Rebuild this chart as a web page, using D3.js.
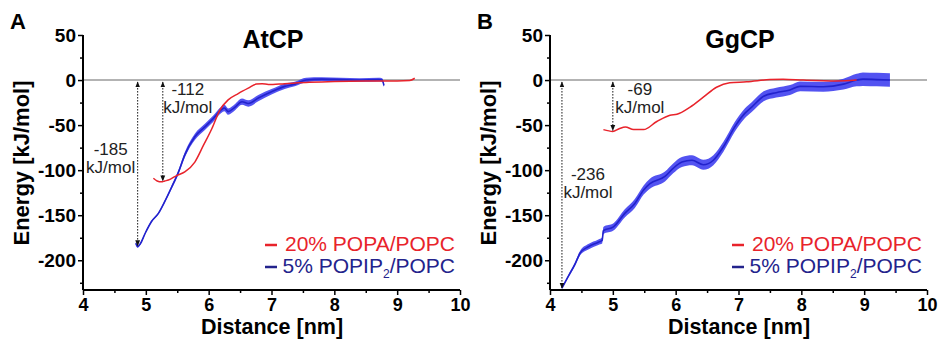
<!DOCTYPE html>
<html>
<head>
<meta charset="utf-8">
<script src="https://cdn.jsdelivr.net/npm/d3@7"></script>
<style>
  body { margin: 0; background: #fff; }
  svg { font-family: "Liberation Sans", Arial, sans-serif; }
</style>
</head>
<body>
<svg id="chart" width="938" height="343"></svg>
<script>
// ---- data ----
var panelLetters = ["A", "B"];
var panelTitles = ["AtCP", "GgCP"];
var seriesNames = ["20% POPA/POPC", "5% POPIP2/POPC"];
var xTicks = [4, 5, 6, 7, 8, 9, 10];
var yTicks = [50, 0, -50, -100, -150, -200];

// AtCP, POPA
var atPopaX = [5.12, 5.18, 5.25, 5.30, 5.36, 5.49, 5.62, 5.78, 5.92, 6.05, 6.18, 6.31, 6.47, 6.63, 6.76, 6.85, 6.95, 7.21, 7.6, 8.0, 8.5, 9.0, 9.2, 9.28];
var atPopaE = [-109, -112, -113, -112, -111, -106, -102, -91, -72, -54, -33, -22, -15, -9, -4.5, -4, -5, -4, -2.5, -1.5, -1, -1, -0.5, 2];
// AtCP, PIP2
var atPipX = [4.84, 4.87, 4.91, 4.99, 5.09, 5.2, 5.3, 5.41, 5.52, 5.62, 5.78, 5.94, 6.07, 6.2, 6.25, 6.31, 6.42, 6.53, 6.63, 6.79, 7.0, 7.21, 7.37, 7.55, 7.8, 8.1, 8.4, 8.7, 8.76, 8.79];
var atPipE = [-181, -185, -182, -170, -157, -148, -135, -119, -102, -83, -63, -52, -43, -33, -31, -35, -30, -24, -26, -20, -13, -7, -4.5, 0, 1, 0.5, 0, 0.5, 0, -6];
var atPipErr = [1, 1, 1, 1, 1, 1, 1.5, 2, 2.5, 3, 3.5, 3.5, 3.5, 3.5, 3.5, 3.5, 3.5, 3.5, 3.5, 3.5, 3, 3, 2.5, 2.5, 2, 2, 2, 2, 2, 2];

// GgCP, POPA
var ggPopaX = [4.85, 5.0, 5.1, 5.2, 5.33, 5.49, 5.7, 5.91, 6.02, 6.23, 6.44, 6.65, 6.86, 7.13, 7.5, 7.71, 8.03, 8.56, 8.88];
var ggPopaE = [-55, -57, -54, -52, -55, -55, -46, -39, -38, -30, -19, -8, -3, -2, 0.5, 1, 0, -1, 0];
// GgCP, PIP2
var ggPipX = [4.19, 4.29, 4.40, 4.48, 4.61, 4.77, 4.83, 4.85, 5.01, 5.19, 5.35, 5.49, 5.59, 5.83, 5.96, 6.1, 6.26, 6.44, 6.6, 6.76, 6.94, 7.1, 7.21, 7.4, 7.6, 7.82, 7.98, 8.35, 8.67, 8.88, 8.98, 9.2, 9.41];
var ggPipE = [-231, -218, -204, -192, -185, -180, -178, -167, -163, -148, -137, -122, -115, -107, -98, -91, -89, -94, -89, -74, -52, -37, -30, -18, -14, -11, -7, -7.4, -4.5, 0, 1, 0.5, 0];
var ggPipErr = [1, 1.5, 2, 2.5, 3, 3, 3.5, 4, 4, 4.5, 5, 5, 5.5, 5.5, 5.5, 5.5, 5.5, 5.5, 5.5, 5.5, 5.5, 5.5, 5.5, 5.5, 5.5, 5.5, 5.5, 5.5, 6, 7, 7.5, 7.5, 7.5];

// annotation arrows: x position, bottom value, label lines
var arrowX = [[4.87, 5.27], [4.19, 5.0]];
var arrowBottom = [[-185, -113], [-232, -57]];
var arrowLabel = [["-185", "-112"], ["-236", "-69"]];

var panels = [
  { popaX: atPopaX, popaE: atPopaE, pipX: atPipX, pipE: atPipE, pipErr: atPipErr },
  { popaX: ggPopaX, popaE: ggPopaE, pipX: ggPipX, pipE: ggPipE, pipErr: ggPipErr }
];
// label offsets (pixels, relative to each arrow)
var labelPos = [[[-27, 75], [25, 15]], [[26, 100], [27, 15]]];

var red = "#e8232b", blue = "#2222cc", blueBand = "#4040f0", navy = "#23238c";
var font = "'Liberation Sans', Arial, sans-serif";

var svg = d3.select("#chart");

var x = d3.scaleLinear().domain([4, 10]).range([83, 460]);
var y = d3.scaleLinear().domain([-233, 50]).range([290, 35]);

var defs = svg.append("defs");
defs.append("marker")
  .attr("id", "arr")
  .attr("viewBox", "0 0 10 10")
  .attr("refX", 9).attr("refY", 5)
  .attr("markerWidth", 6).attr("markerHeight", 6)
  .attr("orient", "auto-start-reverse")
  .append("path").attr("d", "M0,1L10,5L0,9Z").attr("fill", "#111");

panels.forEach(function(p, i) {
  var g = svg.append("g").attr("transform", "translate(" + (i * 467) + ",0)");

  // zero line
  g.append("line")
    .attr("x1", x(4)).attr("x2", x(10))
    .attr("y1", y(0)).attr("y2", y(0))
    .attr("stroke", "#9a9a9a").attr("stroke-width", 1.4);

  // PIP2 band + line
  var pip = p.pipX.map(function(d, k) { return { x: d, e: p.pipE[k], s: p.pipErr[k] }; });
  var band = d3.area()
    .x(function(d) { return x(d.x); })
    .y0(function(d) { return y(d.e - d.s); })
    .y1(function(d) { return y(d.e + d.s); })
    .curve(d3.curveMonotoneX);
  g.append("path").datum(pip)
    .attr("d", band)
    .attr("fill", blueBand).attr("opacity", 0.9);
  g.append("path").datum(pip)
    .attr("d", d3.line().x(function(d) { return x(d.x); }).y(function(d) { return y(d.e); }).curve(d3.curveMonotoneX))
    .attr("fill", "none").attr("stroke", blue).attr("stroke-width", 1.6);

  // POPA line
  var popa = p.popaX.map(function(d, k) { return { x: d, e: p.popaE[k] }; });
  g.append("path").datum(popa)
    .attr("d", d3.line().x(function(d) { return x(d.x); }).y(function(d) { return y(d.e); }).curve(d3.curveMonotoneX))
    .attr("fill", "none").attr("stroke", red).attr("stroke-width", 1.5);

  // annotation arrows
  arrowX[i].forEach(function(ax, k) {
    g.append("line")
      .attr("x1", x(ax)).attr("x2", x(ax))
      .attr("y1", y(0) + 2).attr("y2", y(arrowBottom[i][k]) - 1)
      .attr("stroke", "#111").attr("stroke-width", 1)
      .attr("stroke-dasharray", "1.5,1.5")
      .attr("marker-start", "url(#arr)")
      .attr("marker-end", "url(#arr)");
    var lp = labelPos[i][k];
    var t = g.append("text")
      .attr("text-anchor", "middle")
      .attr("font-size", 17).attr("fill", "#222");
    t.append("tspan").attr("x", x(ax) + lp[0]).attr("y", y(0) + lp[1]).text(arrowLabel[i][k]);
    t.append("tspan").attr("x", x(ax) + lp[0]).attr("y", y(0) + lp[1] + 18).text("kJ/mol");
  });

  // axes
  var xAxis = g.append("g").attr("transform", "translate(0," + y(-233) + ")")
    .call(d3.axisBottom(x).tickValues(xTicks).tickFormat(d3.format("d")).tickSize(5).tickPadding(3));
  g.append("g").attr("transform", "translate(0," + y(-233) + ")")
    .call(d3.axisBottom(x).tickValues(d3.range(4.5, 10, 1)).tickFormat("").tickSize(3))
    .select(".domain").remove();
  var yAxis = g.append("g").attr("transform", "translate(" + x(4) + ",0)")
    .call(d3.axisLeft(y).tickValues(yTicks).tickFormat(function(d) { return String(d); }).tickSize(5).tickPadding(2));
  g.append("g").attr("transform", "translate(" + x(4) + ",0)")
    .call(d3.axisLeft(y).tickValues([25, -25, -75, -125, -175, -225]).tickFormat("").tickSize(3))
    .select(".domain").remove();
  g.selectAll(".domain").attr("stroke-width", 2);
  xAxis.select(".domain").attr("d", "M" + x(4) + ",0H" + x(10));
  yAxis.select(".domain").attr("d", "M0," + y(50) + "V" + y(-233));
  g.selectAll(".tick line").attr("stroke-width", 1.5);
  g.selectAll(".tick text")
    .attr("fill", "#000")
    .attr("font-family", font)
    .attr("font-weight", "bold")
    .attr("font-size", 18);
  yAxis.selectAll(".tick text").attr("font-size", 19);

  // titles
  g.append("text").attr("x", 10).attr("y", 29)
    .attr("font-size", 22).attr("font-weight", "bold").text(panelLetters[i]);
  g.append("text").attr("x", 273).attr("y", 48).attr("text-anchor", "middle")
    .attr("font-size", 25).attr("font-weight", "bold").text(panelTitles[i]);
  g.append("text").attr("x", 272).attr("y", 334).attr("text-anchor", "middle")
    .attr("font-size", 21.5).attr("font-weight", "bold").text("Distance [nm]");
  g.append("text").attr("transform", "translate(29,163) rotate(-90)").attr("text-anchor", "middle")
    .attr("font-size", 22).attr("font-weight", "bold").text("Energy [kJ/mol]");

  // legend
  var lg = g.append("g");
  lg.append("line").attr("x1", 265).attr("x2", 277).attr("y1", 245).attr("y2", 245)
    .attr("stroke", red).attr("stroke-width", 2.5);
  lg.append("text").attr("x", 455).attr("y", 251).attr("text-anchor", "end")
    .attr("font-size", 21).attr("fill", red).text(seriesNames[0]);
  lg.append("line").attr("x1", 265).attr("x2", 277).attr("y1", 267).attr("y2", 267)
    .attr("stroke", navy).attr("stroke-width", 2.5);
  var t2 = lg.append("text").attr("x", 455).attr("y", 273).attr("text-anchor", "end")
    .attr("font-size", 21).attr("fill", navy);
  t2.append("tspan").text("5% POPIP");
  t2.append("tspan").attr("font-size", 12).attr("dy", 5).text("2");
  t2.append("tspan").attr("dy", -5).text("/POPC");
});
</script>
</body>
</html>
